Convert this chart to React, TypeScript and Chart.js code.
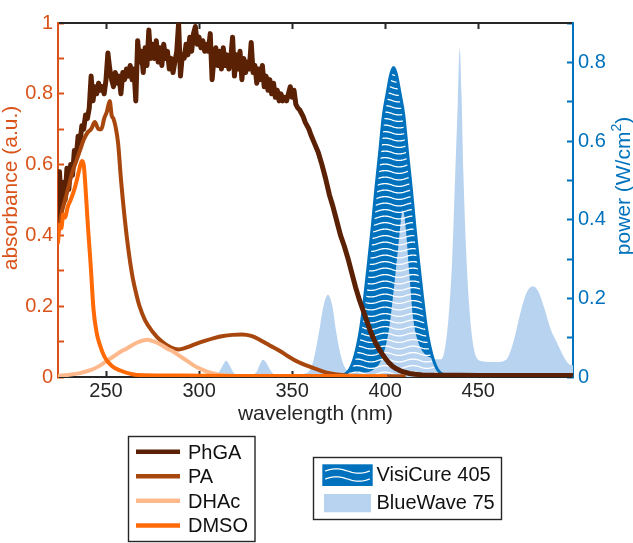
import React, { useEffect, useRef } from 'react';
import { Chart, registerables } from 'chart.js';

Chart.register(...registerables);

const FONT = '"Liberation Sans", Arial, Helvetica, sans-serif';
const BLUE = '#0072BD';
const ORANGE_AXIS = '#D95319';
const LIGHT_BLUE = '#B8D3F0';
const INK = '#262626';

// ---------- tick values / labels ----------
const xTickValues = [250, 300, 350, 400, 450];
const absTickValues = [0, 0.1, 0.2, 0.3, 0.4, 0.5, 0.6, 0.7, 0.8, 0.9, 1];
const absTickLabels = ['0', '', '0.2', '', '0.4', '', '0.6', '', '0.8', '', '1'];
const powTickValues = [0, 0.1, 0.2, 0.3, 0.4, 0.5, 0.6, 0.7, 0.8, 0.9];
const powTickLabels = ['0', '', '0.2', '', '0.4', '', '0.6', '', '0.8', ''];

// ---------- series names ----------
const lineLabels = ['PhGA', 'PA', 'DHAc', 'DMSO'];
const lineColors = ['#5A2104', '#A8470D', '#FDB98C', '#FF6A06'];
const lampLabels = ['VisiCure 405', 'BlueWave 75'];
const xTitle = 'wavelength (nm)';
const yLeftTitle = 'absorbance (a.u.)';
const yRightTitle = ['power (W/cm', '2', ')'];

// ---------- PhGA absorbance ----------
const phgaNm = [
  224.2, 225, 226, 227, 228, 229, 230, 231, 232, 233,
  234, 235, 236, 237, 238, 239, 240, 241, 242, 243,
  244, 245, 246, 247, 248, 249, 250, 251, 252, 253,
  254, 255, 256, 257, 258, 259, 260, 261, 262, 263,
  264, 265, 266, 267, 268, 269, 270, 271, 272, 273,
  274, 275, 276, 277, 278, 279, 280, 281, 282, 283,
  284, 285, 286, 287, 288, 289, 290, 291, 292, 293,
  294, 295, 296, 297, 298, 299, 300, 301, 302, 303,
  304, 305, 306, 307, 308, 309, 310, 311, 312, 313,
  314, 315, 316, 317, 318, 319, 320, 321, 322, 323,
  324, 325, 326, 327, 328, 329, 330, 331, 332, 333,
  334, 335, 336, 337, 338, 339, 340, 341, 342, 343,
  344, 345, 346, 347, 348, 349, 350, 351, 352, 353,
  354, 355, 356, 357, 358, 359, 360,
  362, 364, 366, 368, 370, 372, 374, 376, 378, 380,
  382, 384, 386, 388, 390, 392, 394, 396, 398, 400,
  402, 404, 406, 408, 410, 413, 416, 420, 430, 440,
  450, 460, 470, 480, 490, 500.9,
];
const phgaAbs = [
  0.42, 0.58, 0.47, 0.55, 0.50, 0.59, 0.53, 0.60, 0.57, 0.64,
  0.62, 0.68, 0.66, 0.71, 0.70, 0.74, 0.73, 0.76, 0.85, 0.78,
  0.82, 0.80, 0.83, 0.81, 0.82, 0.80, 0.84, 0.915, 0.87, 0.84,
  0.82, 0.86, 0.83, 0.85, 0.80, 0.86, 0.84, 0.87, 0.85, 0.88,
  0.84, 0.87, 0.78, 0.95, 0.89, 0.92, 0.86, 0.93, 0.88, 0.98,
  0.90, 0.94, 0.90, 0.95, 0.89, 0.93, 0.88, 0.94, 0.90, 0.92,
  0.87, 0.90, 0.86, 0.89, 0.92, 1.0, 0.85, 0.91, 0.90, 0.94,
  0.91, 0.96, 0.92, 0.97, 0.99, 0.94, 0.96, 0.93, 0.95, 0.92,
  0.94, 0.92, 0.97, 0.84, 0.90, 0.93, 0.88, 0.92, 0.87, 0.93,
  0.88, 0.91, 0.87, 0.90, 0.96, 0.85, 0.91, 0.87, 0.92, 0.84,
  0.90, 0.86, 0.89, 0.87, 0.945, 0.86, 0.88, 0.83, 0.87, 0.84,
  0.88, 0.82, 0.85, 0.81, 0.84, 0.80, 0.83, 0.79, 0.81, 0.78,
  0.80, 0.78, 0.79, 0.78, 0.80, 0.82, 0.79, 0.81, 0.77, 0.76,
  0.755, 0.745, 0.735, 0.72, 0.71, 0.70, 0.685,
  0.66, 0.635, 0.60, 0.56, 0.515, 0.48, 0.44, 0.40, 0.37, 0.335,
  0.295, 0.255, 0.22, 0.19, 0.16, 0.13, 0.105, 0.085, 0.068, 0.053,
  0.04, 0.03, 0.023, 0.018, 0.014, 0.01, 0.008, 0.006, 0.005, 0.005,
  0.004, 0.004, 0.004, 0.004, 0.004, 0.004,
];

// ---------- PA absorbance ----------
const paNm = [
  224.2, 226, 228, 230, 232, 234, 236, 238, 240, 242,
  244, 246, 247.5, 249, 250.5, 252, 253, 254, 255, 256.5,
  258, 260, 262, 264, 266, 268, 271, 275, 280, 285,
  289, 293, 298, 303, 308, 313, 318, 323, 328, 333,
  338, 343, 348, 353, 358, 363, 368, 373, 378, 385,
  395, 410,
];
const paAbs = [
  0.40, 0.46, 0.50, 0.54, 0.58, 0.61, 0.64, 0.67, 0.69, 0.70,
  0.72, 0.70, 0.70, 0.73, 0.75, 0.78, 0.74, 0.73, 0.71, 0.66,
  0.56, 0.45, 0.36, 0.29, 0.24, 0.20, 0.16, 0.128, 0.10, 0.083,
  0.078, 0.083, 0.093, 0.102, 0.11, 0.116, 0.119, 0.12, 0.116, 0.104,
  0.089, 0.075, 0.058, 0.043, 0.032, 0.022, 0.013, 0.008, 0.005, 0.003,
  0.002, 0.002,
];

// ---------- DHAc absorbance ----------
const dhacNm = [
  224.2, 230, 236, 242, 246, 250, 254, 258, 261, 264,
  268, 272, 276, 280, 283, 286, 290, 294, 298, 302,
  306, 310, 314, 320, 350, 400,
];
const dhacAbs = [
  0.003, 0.006, 0.011, 0.02, 0.03, 0.044, 0.058, 0.072, 0.08, 0.09,
  0.1, 0.105, 0.1, 0.09, 0.08, 0.072, 0.058, 0.044, 0.03, 0.02,
  0.012, 0.007, 0.004, 0.003, 0.002, 0.002,
];

// ---------- DMSO absorbance ----------
const dmsoNm = [
  224.2, 225, 226, 227, 228, 229.4, 231, 233, 234.5, 235.8,
  237, 238, 238.8, 240.1, 241.7, 243.3, 244.9, 246.6, 249.2, 253,
  257.3, 264, 270, 290, 320, 360, 400,
];
const dmsoAbs = [
  0.38, 0.43, 0.42, 0.46, 0.45, 0.48, 0.50, 0.53, 0.56, 0.59,
  0.61, 0.60, 0.55, 0.44, 0.32, 0.19, 0.127, 0.092, 0.057, 0.032,
  0.019, 0.008, 0.005, 0.004, 0.003, 0.003, 0.002,
];

// ---------- VisiCure 405 power ----------
const visiNm = [
  355, 375, 377, 379, 381, 383, 385, 387, 389, 391,
  393, 395, 397, 399, 401, 403, 404.5, 406, 408, 410,
  412, 414, 416, 418, 420, 422, 424, 426, 428, 430,
  432, 434, 500.9,
];
const visiPow = [
  0, 0, 0.003, 0.009, 0.02, 0.042, 0.078, 0.13, 0.205, 0.29,
  0.38, 0.48, 0.57, 0.665, 0.72, 0.77, 0.787, 0.77, 0.72, 0.665,
  0.57, 0.48, 0.38, 0.29, 0.205, 0.13, 0.078, 0.042, 0.02, 0.009,
  0.003, 0, 0,
];

// ---------- BlueWave 75 power ----------
const blueNm = [
  300, 306, 309, 311, 313, 314.6, 316, 318, 320, 322,
  327, 329, 331, 332.5, 334.3, 336, 338, 340, 342, 348,
  354, 357, 359.3, 361, 363, 365, 366.5, 368, 369.2, 370.5,
  371.9, 373.5, 375.5, 377, 379, 382, 386, 390, 394, 398,
  402, 405, 407, 409.5, 411, 413, 415, 418, 421, 424,
  427, 430, 432, 434, 436, 437.5, 439, 440, 441, 442,
  443.5, 445, 447, 449, 452, 460, 465, 468, 470, 473,
  476, 479.3, 482, 485.5, 489, 492, 495, 499, 500.9,
];
const bluePow = [
  0, 0, 0.004, 0.015, 0.032, 0.041, 0.033, 0.015, 0.004, 0,
  0, 0.005, 0.014, 0.03, 0.044, 0.037, 0.02, 0.007, 0.002, 0.002,
  0.005, 0.009, 0.016, 0.035, 0.076, 0.13, 0.173, 0.2, 0.209, 0.2,
  0.173, 0.12, 0.068, 0.04, 0.019, 0.01, 0.01, 0.012, 0.02, 0.045,
  0.12, 0.24, 0.33, 0.424, 0.38, 0.26, 0.15, 0.085, 0.06, 0.05,
  0.045, 0.045, 0.07, 0.15, 0.3, 0.5, 0.7, 0.836, 0.72, 0.52,
  0.32, 0.19, 0.09, 0.05, 0.04, 0.038, 0.044, 0.075, 0.11, 0.17,
  0.215, 0.231, 0.22, 0.175, 0.12, 0.09, 0.06, 0.032, 0.03,
];

const pts = (xs: number[], ys: number[]) => xs.map((x, i) => ({ x, y: ys[i] }));

function drawWave(ctx: CanvasRenderingContext2D, x0: number, x1: number, y: number, amp: number) {
  ctx.beginPath();
  const n = 30;
  for (let i = 0; i <= n; i++) {
    const t = i / n;
    const xx = x0 + (x1 - x0) * t;
    const yy = y - amp * Math.sin(t * Math.PI * 2);
    if (i === 0) ctx.moveTo(xx, yy);
    else ctx.lineTo(xx, yy);
  }
  ctx.stroke();
}

const TITLE_SIZE = 21;

const overlayPlugin = {
  id: 'overlay',
  afterDraw(chart: any) {
    const ctx: CanvasRenderingContext2D = chart.ctx;
    ctx.save();
    ctx.textBaseline = 'middle';
    const big = `${TITLE_SIZE}px ${FONT}`;
    const small = `14px ${FONT}`;

    // left axis title, rotated
    ctx.translate(11, 188);
    ctx.rotate(-Math.PI / 2);
    ctx.fillStyle = ORANGE_AXIS;
    ctx.textAlign = 'center';
    ctx.font = big;
    ctx.fillText(yLeftTitle, 0, 0);
    ctx.setTransform(1, 0, 0, 1, 0, 0);

    // right axis title, rotated, with superscript
    ctx.translate(624, 186);
    ctx.rotate(-Math.PI / 2);
    ctx.fillStyle = BLUE;
    ctx.textAlign = 'left';
    const [pa, ps, pb] = yRightTitle;
    ctx.font = big;
    const wa = ctx.measureText(pa).width;
    const wb = ctx.measureText(pb).width;
    ctx.font = small;
    const ws = ctx.measureText(ps).width;
    const start = -(wa + ws + wb) / 2;
    ctx.font = big;
    ctx.fillText(pa, start, 0);
    ctx.font = small;
    ctx.fillText(ps, start + wa, -7);
    ctx.font = big;
    ctx.fillText(pb, start + wa + ws, 0);
    ctx.setTransform(1, 0, 0, 1, 0, 0);

    // legend 1 (absorbance lines)
    ctx.strokeStyle = INK;
    ctx.lineWidth = 1.4;
    ctx.strokeRect(128.5, 436.5, 126.5, 105);
    ctx.font = `20px ${FONT}`;
    ctx.textAlign = 'left';
    const rowY = [451.7, 476.3, 500.8, 525.4];
    lineLabels.forEach((lab, i) => {
      const ds = chart.data.datasets.find((d: any) => d.label === lab);
      ctx.strokeStyle = ds ? ds.borderColor : lineColors[i];
      ctx.lineWidth = 4.5;
      ctx.beginPath();
      ctx.moveTo(136, rowY[i]);
      ctx.lineTo(180, rowY[i]);
      ctx.stroke();
      ctx.fillStyle = '#111';
      ctx.fillText(lab, 188, rowY[i] + 1.5);
    });

    // legend 2 (lamps)
    ctx.strokeStyle = INK;
    ctx.lineWidth = 1.4;
    ctx.strokeRect(313.5, 457.5, 188, 62);
    ctx.fillStyle = BLUE;
    ctx.fillRect(322.3, 464.3, 50.4, 21.7);
    ctx.strokeStyle = '#ffffff';
    ctx.lineWidth = 1.3;
    drawWave(ctx, 325, 370, 471, 2.2);
    drawWave(ctx, 325, 370, 479, 2.2);
    ctx.fillStyle = LIGHT_BLUE;
    ctx.fillRect(324, 494, 47, 18.3);
    ctx.fillStyle = '#111';
    ctx.fillText(lampLabels[0], 376.5, 475.5);
    ctx.fillText(lampLabels[1], 376.5, 503.5);

    ctx.restore();
  },
};

export default function App() {
  const ref = useRef<HTMLCanvasElement>(null);

  useEffect(() => {
    const canvas = ref.current;
    if (!canvas) return;
    const ctx = canvas.getContext('2d') as CanvasRenderingContext2D;

    // wavy white hatch tile for the VisiCure area
    const tile = document.createElement('canvas');
    tile.width = 28;
    tile.height = 13;
    const tg = tile.getContext('2d') as CanvasRenderingContext2D;
    tg.strokeStyle = '#ffffff';
    tg.lineWidth = 1.3;
    for (const base of [3, 9.5]) {
      tg.beginPath();
      for (let i = 0; i <= 28; i++) {
        const yy = base + 1.4 * Math.sin((i / 28) * Math.PI * 2);
        if (i === 0) tg.moveTo(i, yy);
        else tg.lineTo(i, yy);
      }
      tg.stroke();
    }
    const hatch = ctx.createPattern(tile, 'repeat');

    const xMin = 224.2;
    const xMax = 500.9;

    const absLine = (label: string, xs: number[], ys: number[], color: string, width: number, order: number, smooth: boolean) => ({
      label,
      data: pts(xs, ys),
      xAxisID: 'x',
      yAxisID: 'y',
      borderColor: color,
      backgroundColor: color,
      borderWidth: width,
      pointRadius: 0,
      fill: false,
      order,
      borderJoinStyle: 'round',
      borderCapStyle: 'round',
      cubicInterpolationMode: smooth ? 'monotone' : 'default',
    });

    const chart = new Chart(canvas, {
      type: 'line',
      data: {
        datasets: [
          absLine(lineLabels[3], dmsoNm, dmsoAbs, lineColors[3], 4, 1, true),
          absLine(lineLabels[2], dhacNm, dhacAbs, lineColors[2], 4, 2, true),
          absLine(lineLabels[1], paNm, paAbs, lineColors[1], 4, 3, true),
          absLine(lineLabels[0], phgaNm, phgaAbs, lineColors[0], 5, 4, false),
          {
            label: lampLabels[0],
            data: pts(visiNm, visiPow),
            xAxisID: 'x',
            yAxisID: 'y1',
            borderColor: BLUE,
            backgroundColor: hatch,
            borderWidth: 3,
            pointRadius: 0,
            fill: 'origin',
            order: 5,
            cubicInterpolationMode: 'monotone',
          },
          {
            label: lampLabels[1],
            data: pts(blueNm, bluePow),
            xAxisID: 'x',
            yAxisID: 'y1',
            borderColor: LIGHT_BLUE,
            backgroundColor: LIGHT_BLUE,
            borderWidth: 0,
            pointRadius: 0,
            fill: 'origin',
            order: 6,
            cubicInterpolationMode: 'monotone',
          },
          {
            label: lampLabels[0] + ' fill',
            data: pts(visiNm, visiPow),
            xAxisID: 'x',
            yAxisID: 'y1',
            borderColor: BLUE,
            backgroundColor: BLUE,
            borderWidth: 0,
            pointRadius: 0,
            fill: 'origin',
            order: 7,
            cubicInterpolationMode: 'monotone',
          },
        ],
      },
      options: {
        responsive: false,
        animation: false,
        events: [],
        layout: { padding: 0, autoPadding: false },
        plugins: {
          legend: { display: false },
          tooltip: { enabled: false },
        },
        scales: {
          x: {
            type: 'linear',
            position: 'bottom',
            min: xMin,
            max: xMax,
            afterBuildTicks: (s: any) => {
              s.ticks = xTickValues.map((v) => ({ value: v }));
            },
            afterFit: (s: any) => {
              s.height = 166;
            },
            ticks: {
              autoSkip: false,
              maxRotation: 0,
              color: INK,
              padding: 8,
              font: { family: FONT, size: 20 },
              callback: (v: any) => String(v),
            },
            grid: { drawOnChartArea: false, tickLength: -6, tickWidth: 2, color: INK },
            border: { color: INK, width: 2 },
            title: {
              display: true,
              text: xTitle,
              color: INK,
              font: { family: FONT, size: TITLE_SIZE },
              padding: { top: 0, bottom: 116 },
            },
          },
          xTop: {
            type: 'linear',
            position: 'top',
            min: xMin,
            max: xMax,
            afterBuildTicks: (s: any) => {
              s.ticks = xTickValues.map((v) => ({ value: v }));
            },
            afterFit: (s: any) => {
              s.height = 7;
            },
            ticks: { display: false },
            grid: { drawOnChartArea: false, tickLength: -6, tickWidth: 2, color: INK },
            border: { color: INK, width: 2 },
          },
          y: {
            type: 'linear',
            position: 'left',
            min: 0,
            max: 1,
            afterBuildTicks: (s: any) => {
              s.ticks = absTickValues.map((v) => ({ value: v }));
            },
            afterFit: (s: any) => {
              s.width = 58;
            },
            ticks: {
              autoSkip: false,
              color: ORANGE_AXIS,
              padding: 11,
              font: { family: FONT, size: 20 },
              callback: (_v: any, i: number) => absTickLabels[i],
            },
            grid: { drawOnChartArea: false, tickLength: -6, tickWidth: 2, color: ORANGE_AXIS },
            border: { color: ORANGE_AXIS, width: 2 },
          },
          y1: {
            type: 'linear',
            position: 'right',
            min: 0,
            max: 0.9,
            afterBuildTicks: (s: any) => {
              s.ticks = powTickValues.map((v) => ({ value: v }));
            },
            afterFit: (s: any) => {
              s.width = 60;
            },
            ticks: {
              autoSkip: false,
              color: BLUE,
              padding: 11,
              font: { family: FONT, size: 20 },
              callback: (_v: any, i: number) => powTickLabels[i],
            },
            grid: { drawOnChartArea: false, tickLength: -6, tickWidth: 2, color: BLUE },
            border: { color: BLUE, width: 2 },
          },
        },
      },
      plugins: [overlayPlugin],
    } as any);

    return () => chart.destroy();
  }, []);

  return (
    <div style={{ position: 'absolute', left: 0, top: 0, width: 633, height: 543, background: '#fff' }}>
      <canvas ref={ref} width={633} height={543} style={{ display: 'block', width: 633, height: 543 }} />
    </div>
  );
}
